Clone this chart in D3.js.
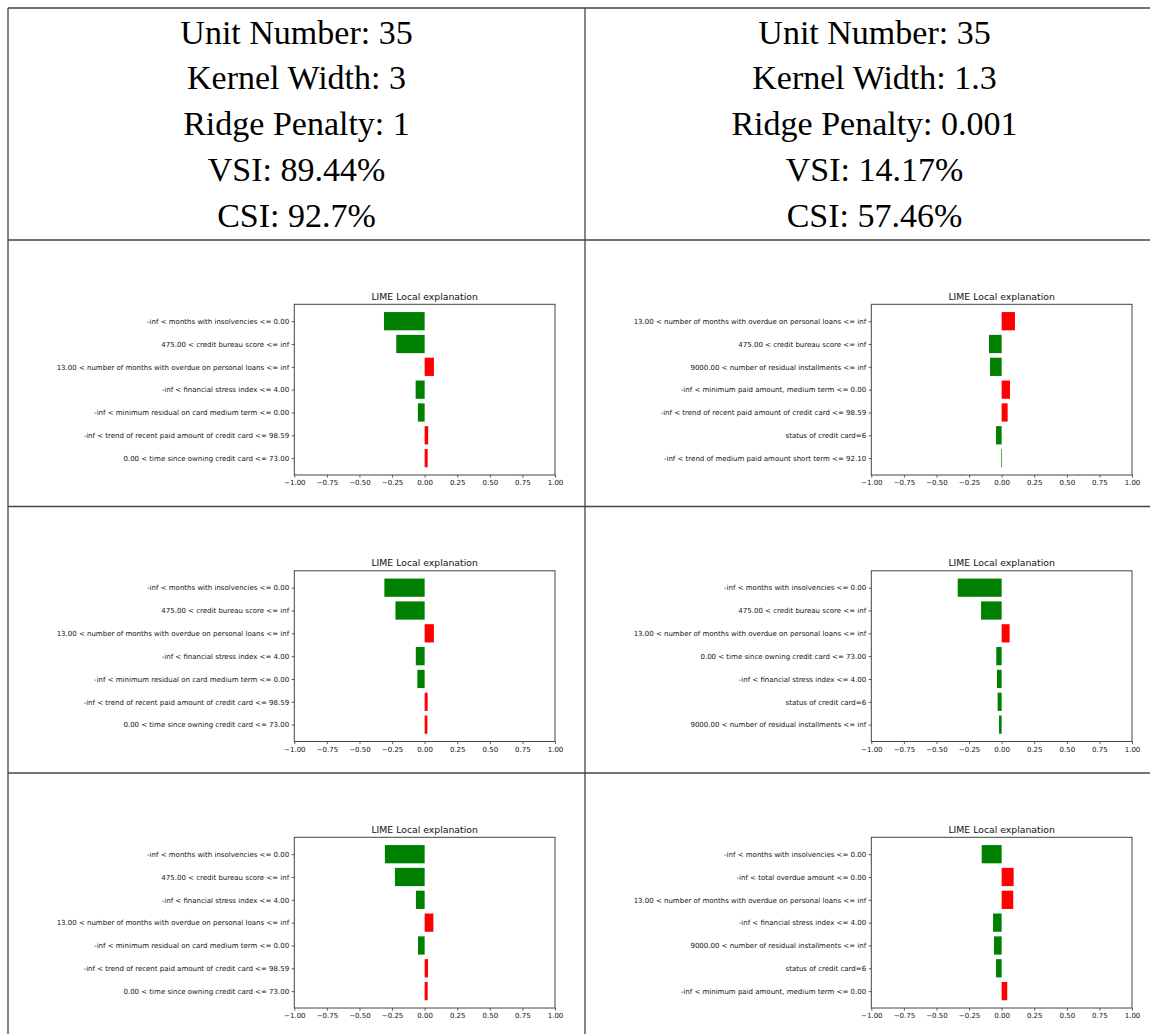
<!DOCTYPE html>
<html>
<head>
<meta charset="utf-8">
<script src="https://cdn.jsdelivr.net/npm/d3@7"></script>
<style>
  body { margin: 0; background: #fff; }
  svg { display: block; }
</style>
</head>
<body>
<svg id="fig" width="1150" height="1034"></svg>
<script>
// Header cells: settings and stability indices of the two LIME configurations
const headerLeft = ["Unit Number: 35", "Kernel Width: 3", "Ridge Penalty: 1", "VSI: 89.44%", "CSI: 92.7%"];
const headerRight = ["Unit Number: 35", "Kernel Width: 1.3", "Ridge Penalty: 0.001", "VSI: 14.17%", "CSI: 57.46%"];

const chartTitle = "LIME Local explanation";
const xTicks = [-1, -0.75, -0.5, -0.25, 0, 0.25, 0.5, 0.75, 1];

// Kernel width 3, ridge penalty 1 — three repeated explanations
const kw3Run1Labels = [
  "-inf < months with insolvencies <= 0.00",
  "475.00 < credit bureau score <= inf",
  "13.00 < number of months with overdue on personal loans <= inf",
  "-inf < financial stress index <= 4.00",
  "-inf < minimum residual on card medium term <= 0.00",
  "-inf < trend of recent paid amount of credit card <= 98.59",
  "0.00 < time since owning credit card <= 73.00"
];
const kw3Run1Weights = [-0.312, -0.218, 0.071, -0.069, -0.052, 0.027, 0.023];

const kw3Run2Labels = [
  "-inf < months with insolvencies <= 0.00",
  "475.00 < credit bureau score <= inf",
  "13.00 < number of months with overdue on personal loans <= inf",
  "-inf < financial stress index <= 4.00",
  "-inf < minimum residual on card medium term <= 0.00",
  "-inf < trend of recent paid amount of credit card <= 98.59",
  "0.00 < time since owning credit card <= 73.00"
];
const kw3Run2Weights = [-0.309, -0.224, 0.071, -0.068, -0.056, 0.023, 0.021];

const kw3Run3Labels = [
  "-inf < months with insolvencies <= 0.00",
  "475.00 < credit bureau score <= inf",
  "-inf < financial stress index <= 4.00",
  "13.00 < number of months with overdue on personal loans <= inf",
  "-inf < minimum residual on card medium term <= 0.00",
  "-inf < trend of recent paid amount of credit card <= 98.59",
  "0.00 < time since owning credit card <= 73.00"
];
const kw3Run3Weights = [-0.305, -0.228, -0.067, 0.067, -0.051, 0.026, 0.023];

// Kernel width 1.3, ridge penalty 0.001 — three repeated explanations
const kw13Run1Labels = [
  "13.00 < number of months with overdue on personal loans <= inf",
  "475.00 < credit bureau score <= inf",
  "9000.00 < number of residual installments <= inf",
  "-inf < minimum paid amount, medium term <= 0.00",
  "-inf < trend of recent paid amount of credit card <= 98.59",
  "status of credit card=6",
  "-inf < trend of medium paid amount short term <= 92.10"
];
const kw13Run1Weights = [0.102, -0.097, -0.089, 0.064, 0.046, -0.043, -0.005];

const kw13Run2Labels = [
  "-inf < months with insolvencies <= 0.00",
  "475.00 < credit bureau score <= inf",
  "13.00 < number of months with overdue on personal loans <= inf",
  "0.00 < time since owning credit card <= 73.00",
  "-inf < financial stress index <= 4.00",
  "status of credit card=6",
  "9000.00 < number of residual installments <= inf"
];
const kw13Run2Weights = [-0.337, -0.158, 0.061, -0.041, -0.036, -0.031, -0.020];

const kw13Run3Labels = [
  "-inf < months with insolvencies <= 0.00",
  "-inf < total overdue amount <= 0.00",
  "13.00 < number of months with overdue on personal loans <= inf",
  "-inf < financial stress index <= 4.00",
  "9000.00 < number of residual installments <= inf",
  "status of credit card=6",
  "-inf < minimum paid amount, medium term <= 0.00"
];
const kw13Run3Weights = [-0.153, 0.092, 0.089, -0.066, -0.059, -0.043, 0.043];

const panels = [
  { col: 0, row: 0, labels: kw3Run1Labels, weights: kw3Run1Weights },
  { col: 1, row: 0, labels: kw13Run1Labels, weights: kw13Run1Weights },
  { col: 0, row: 1, labels: kw3Run2Labels, weights: kw3Run2Weights },
  { col: 1, row: 1, labels: kw13Run2Labels, weights: kw13Run2Weights },
  { col: 0, row: 2, labels: kw3Run3Labels, weights: kw3Run3Weights },
  { col: 1, row: 2, labels: kw13Run3Labels, weights: kw13Run3Weights }
];

// ---- layout of the table ----
const tableLeft = 8, tableTop = 8;
const colX = [8, 585, 1164];
const headerBottom = 240;
const rowH = 266.5;
const rowY = [headerBottom, headerBottom + rowH, headerBottom + 2 * rowH, headerBottom + 3 * rowH];

const svg = d3.select("#fig");
svg.append("rect").attr("width", 1150).attr("height", 1034).attr("fill", "#fff");

// ---- header text ----
const headerFont = "'Liberation Serif', 'Times New Roman', serif";
const headerBaselines = [43.5, 89.3, 135.2, 181.0, 226.9];
[headerLeft, headerRight].forEach((lines, c) => {
  const cx = (colX[c] + colX[c + 1]) / 2;
  svg.append("g").selectAll("text").data(lines).join("text")
    .attr("x", cx)
    .attr("y", (d, i) => headerBaselines[i])
    .attr("text-anchor", "middle")
    .attr("font-family", headerFont)
    .attr("font-size", 34)
    .attr("fill", "#000")
    .text(d => d);
});

// ---- LIME bar panels ----
const plotLeft = 286.3, plotRight = 547, plotTop = 64.3, plotBottom = 235;
const sans = "'DejaVu Sans', sans-serif";
const tickFont = 7.0, titleFont = 9.3;
const tickLen = 2.6, tickPad = 2.6;

panels.forEach(p => {
  const g = svg.append("g")
    .attr("transform", `translate(${colX[p.col]},${rowY[p.row]})`);

  const x = d3.scaleLinear().domain([-1, 1]).range([plotLeft, plotRight]);
  const n = p.labels.length;
  // barh positions 0..n-1 with 0.8 height and 5% margins, first feature on top
  const y = d3.scaleLinear()
    .domain([-0.4 - 0.05 * (n - 1 + 0.8), n - 1 + 0.4 + 0.05 * (n - 1 + 0.8)])
    .range([plotTop, plotBottom]);
  const barH = y(0.8) - y(0);

  g.append("g").selectAll("rect").data(p.weights).join("rect")
    .attr("x", d => x(Math.min(0, d)))
    .attr("width", d => Math.abs(x(d) - x(0)))
    .attr("y", (d, i) => y(i) - barH / 2)
    .attr("height", barH)
    .attr("fill", d => d > 0 ? "#ff0000" : "#008000");

  // x axis
  const xAxis = g.append("g")
    .attr("transform", `translate(0,${plotBottom})`)
    .call(d3.axisBottom(x).tickValues(xTicks).tickFormat(d3.format(".2f"))
      .tickSize(tickLen).tickPadding(tickPad));
  xAxis.select(".domain").remove();
  xAxis.selectAll("line").attr("stroke", "#333").attr("stroke-width", 0.8);
  xAxis.selectAll("text").attr("font-family", sans).attr("font-size", tickFont).attr("fill", "#111");

  // y axis with feature conditions
  const yAxis = g.append("g")
    .attr("transform", `translate(${plotLeft},0)`)
    .call(d3.axisLeft(y).tickValues(d3.range(n)).tickFormat(i => p.labels[i])
      .tickSize(tickLen).tickPadding(tickPad));
  yAxis.select(".domain").remove();
  yAxis.selectAll("line").attr("stroke", "#333").attr("stroke-width", 0.8);
  yAxis.selectAll("text").attr("font-family", sans).attr("font-size", tickFont).attr("fill", "#111");

  // frame
  g.append("rect")
    .attr("x", plotLeft).attr("y", plotTop)
    .attr("width", plotRight - plotLeft).attr("height", plotBottom - plotTop)
    .attr("fill", "none").attr("stroke", "#444").attr("stroke-width", 1);

  g.append("text")
    .attr("x", (plotLeft + plotRight) / 2)
    .attr("y", plotTop - 4.6)
    .attr("text-anchor", "middle")
    .attr("font-family", sans)
    .attr("font-size", titleFont)
    .attr("fill", "#111")
    .text(chartTitle);
});

// ---- table rules ----
const rules = svg.append("g").attr("stroke", "#444").attr("stroke-width", 1.3).attr("fill", "none");
[tableTop, ...rowY.slice(0, 3)].forEach(yy => {
  rules.append("line").attr("x1", tableLeft).attr("x2", colX[2]).attr("y1", yy).attr("y2", yy);
});
colX.forEach(xx => {
  rules.append("line").attr("x1", xx).attr("x2", xx).attr("y1", tableTop).attr("y2", 1040);
});
</script>
</body>
</html>
